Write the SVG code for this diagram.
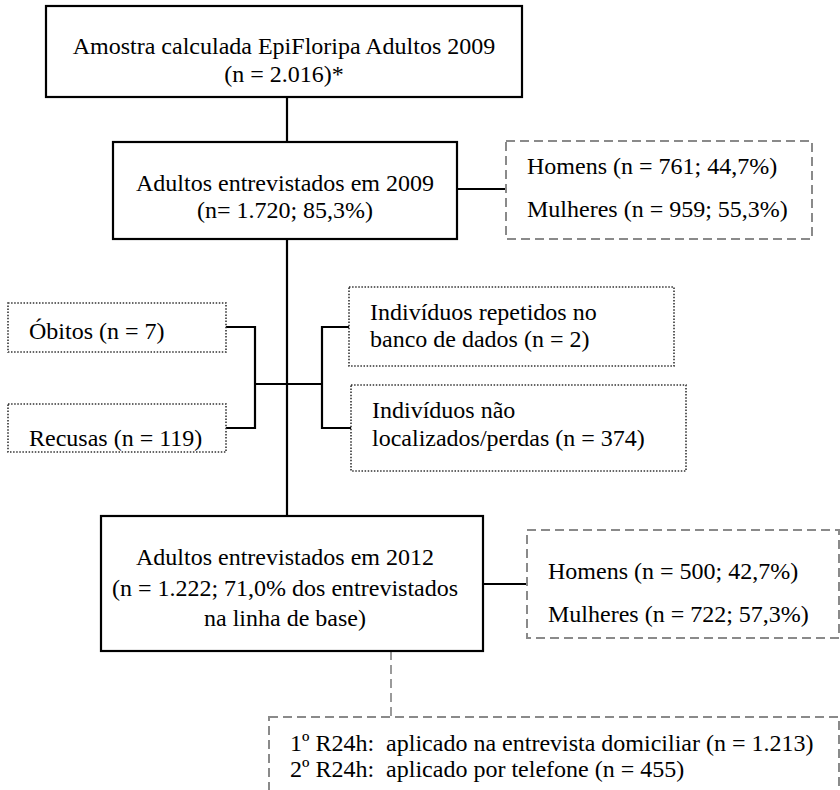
<svg xmlns="http://www.w3.org/2000/svg" width="840" height="790" viewBox="0 0 840 790">
<style>
text{font-family:'Liberation Serif',serif;font-size:24px;fill:#000}
.c{text-anchor:middle}
.solid{fill:#fff;stroke:#000;stroke-width:2.2}
.dash{fill:#fff;stroke:#8a8a8a;stroke-width:2;stroke-dasharray:9,5}
.dot{fill:#fff;stroke:#333;stroke-width:1.6;stroke-dasharray:1.5,1.6}
.ln{fill:none;stroke:#000;stroke-width:2.2}
.gl{fill:none;stroke:#9a9a9a;stroke-width:2;stroke-dasharray:9,5}
</style>
<rect width="840" height="790" fill="#fff"/>
<g id="connectors">
<line class="ln" x1="287" y1="97" x2="287" y2="142"/>
<line class="ln" x1="457" y1="189" x2="506" y2="189"/>
<line class="ln" x1="287" y1="239" x2="287" y2="516"/>
<polyline class="ln" points="226,327 255,327 255,428 226,428"/>
<line class="ln" x1="255" y1="384" x2="322" y2="384"/>
<line class="ln" x1="267" y1="384" x2="322" y2="384" stroke-width="3"/>
<polyline class="ln" points="349,327 322,327 322,428 351,428"/>
<line class="ln" x1="483" y1="584" x2="527" y2="584"/>
<line class="gl" x1="391" y1="651" x2="391" y2="717"/>
</g>
<g id="amostra">
<rect class="solid" x="46" y="6" width="476" height="91"/>
<text class="c" x="284" y="54">Amostra calculada EpiFloripa Adultos 2009</text>
<text class="c" x="284" y="82">(n = 2.016)*</text>
</g>
<g id="adultos2009">
<rect class="solid" x="113" y="142" width="344" height="97"/>
<text class="c" x="285" y="191">Adultos entrevistados em 2009</text>
<text class="c" x="285" y="218">(n= 1.720; 85,3%)</text>
</g>
<g id="sexo2009">
<rect class="dash" x="506" y="141" width="306" height="98"/>
<text x="527" y="174">Homens (n = 761; 44,7%)</text>
<text x="527" y="217">Mulheres (n = 959; 55,3%)</text>
</g>
<g id="obitos">
<rect class="dot" x="8" y="303" width="218" height="49"/>
<text x="29" y="339">Óbitos (n = 7)</text>
</g>
<g id="recusas">
<rect class="dot" x="8" y="404" width="218" height="48"/>
<text x="29" y="446">Recusas (n = 119)</text>
</g>
<g id="repetidos">
<rect class="dot" x="349" y="287" width="325" height="79"/>
<text x="370" y="320">Indivíduos repetidos no</text>
<text x="370" y="347">banco de dados (n = 2)</text>
</g>
<g id="perdas">
<rect class="dot" x="351" y="385" width="335" height="86"/>
<text x="372" y="418">Indivíduos não</text>
<text x="372" y="446">localizados/perdas (n = 374)</text>
</g>
<g id="adultos2012">
<rect class="solid" x="101" y="516" width="382" height="135"/>
<text class="c" x="285" y="565">Adultos entrevistados em 2012</text>
<text class="c" x="285" y="596">(n = 1.222; 71,0% dos entrevistados</text>
<text class="c" x="285" y="626">na linha de base)</text>
</g>
<g id="sexo2012">
<rect class="dash" x="527" y="530" width="312" height="108"/>
<text x="548" y="579">Homens (n = 500; 42,7%)</text>
<text x="548" y="622">Mulheres (n = 722; 57,3%)</text>
</g>
<g id="r24h">
<rect class="dash" x="269" y="717" width="570" height="90"/>
<text x="290" y="751">1º R24h:&#160; aplicado na entrevista domiciliar (n = 1.213)</text>
<text x="290" y="777">2º R24h:&#160; aplicado por telefone (n = 455)</text>
</g>
</svg>
